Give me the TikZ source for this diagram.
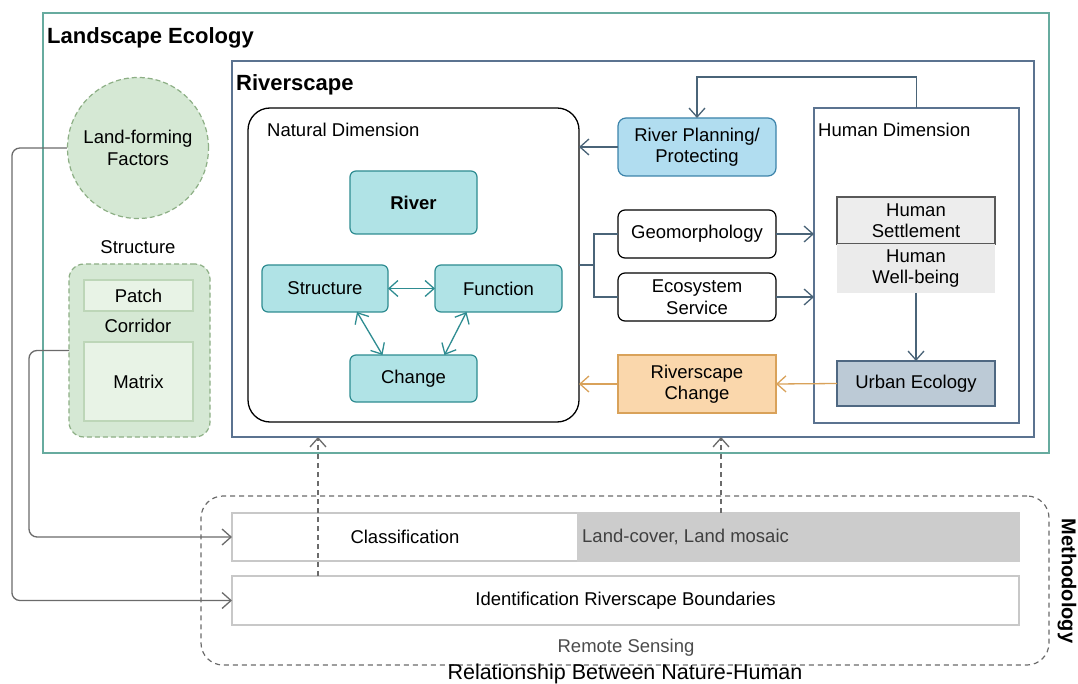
\documentclass[tikz,border=0pt]{standalone}
\usepackage{fontspec}
\setmainfont{Liberation Sans}
\usetikzlibrary{arrows.meta,calc}
\definecolor{lgreen}{HTML}{67AB9F}
\definecolor{rslate}{HTML}{5B7390}
\definecolor{tealF}{HTML}{B0E3E6}
\definecolor{tealD}{HTML}{2E8C91}
\definecolor{blueF}{HTML}{B1DDF0}
\definecolor{blueD}{HTML}{3C83AA}
\definecolor{orF}{HTML}{FAD7AC}
\definecolor{orD}{HTML}{D9A25A}
\definecolor{greenF}{HTML}{D5E8D4}
\definecolor{greenD}{HTML}{8DAF85}
\definecolor{paleF}{HTML}{E8F3E6}
\definecolor{paleD}{HTML}{BDD6B8}
\definecolor{slateF}{HTML}{BCCAD6}
\definecolor{slateD}{HTML}{4F6882}
\definecolor{conn}{HTML}{4A6478}
\definecolor{greyL}{HTML}{6B6B6B}
\definecolor{boxgrey}{HTML}{C8C8C8}
\begin{document}
\begin{tikzpicture}[x=1pt,y=-1pt,
  font=\fontsize{18.5}{21.5}\selectfont,
  box/.style={draw, inner sep=0pt, outer sep=0pt, anchor=north west, align=center},
  lbl/.style={inner sep=0pt, anchor=west},
  arr/.style={line width=1.3pt, -{Straight Barb[length=9pt,width=16pt]}},
  darr/.style={line width=1.3pt, {Straight Barb[length=9pt,width=16pt]}-{Straight Barb[length=9pt,width=16pt]}},
  tealbox/.style={box, fill=tealF, draw=tealD, line width=1.2pt, rounded corners=6pt},
  whitebox/.style={box, fill=white, draw=black, line width=1.2pt, rounded corners=7pt},
]
\useasboundingbox[fill=white] (0,0) rectangle (1078,684);

% containers
\node[box, draw=lgreen, line width=2pt, minimum width=1006, minimum height=440] (land) at (43,13) {};
\node[lbl, font=\fontsize{22}{26}\selectfont\bfseries] (landt) at (47,38) {Landscape Ecology};
\node[box, draw=rslate, line width=2pt, minimum width=802, minimum height=376] (rs) at (232,61) {};
\node[lbl, font=\fontsize{22}{26}\selectfont\bfseries] (rst) at (236,85) {Riverscape};
\node[box, draw=black, line width=1.3pt, rounded corners=22pt, minimum width=331, minimum height=314] (nat) at (248,108) {};
\node[lbl] (natt) at (267,130) {Natural Dimension};
\node[box, draw=rslate, line width=1.5pt, minimum width=205, minimum height=315] (hum) at (814,108) {};
\node[lbl] (humt) at (818,130) {Human Dimension};

% natural dimension
\node[tealbox, minimum width=127, minimum height=63, font=\fontsize{18.5}{21.5}\selectfont\bfseries] (river) at (350,171) {River};
\node[tealbox, minimum width=126, minimum height=47] (struct) at (262,265) {Structure};
\node[tealbox, minimum width=127, minimum height=47] (func) at (435,265) {Function};
\node[tealbox, minimum width=127, minimum height=47] (change) at (350,355) {Change};
\draw[darr, tealD] (struct.east) -- (func.west);
\draw[darr, tealD] ([xshift=32pt]struct.south) -- ([xshift=-31pt]change.north);
\draw[darr, tealD] ([xshift=-32pt]func.south) -- ([xshift=31pt]change.north);

% middle column
\node[box, fill=blueF, draw=blueD, line width=1.2pt, rounded corners=8pt, minimum width=158, minimum height=58] (plan) at (618,118) {River Planning/\\Protecting};
\node[whitebox, minimum width=158, minimum height=48] (geo) at (618,210) {Geomorphology};
\node[whitebox, minimum width=158, minimum height=48] (eco) at (618,273) {Ecosystem\\Service};
\node[box, fill=orF, draw=orD, line width=1.2pt, minimum width=158, minimum height=58] (rchg) at (618,355) {Riverscape\\Change};

% human dimension
\node[box, fill=black!7, draw=black!65, line width=1.2pt, minimum width=158, minimum height=47] (settle) at (837,197) {Human\\Settlement};
\node[box, fill=black!8, draw=none, minimum width=158, minimum height=49] (well) at (837,244) {Human\\Well-being};
\node[box, fill=slateF, draw=slateD, line width=1.5pt, minimum width=158, minimum height=45] (urban) at (837,361) {Urban Ecology};

% connectors
\draw[arr, conn] (plan.west) -- (plan.west -| nat.east);
\draw[arr, conn] (hum.north) -- ++(0,-31) -| (plan.north);
\draw[arr, conn] (geo.east) -- (geo.east -| hum.west);
\draw[arr, conn] (eco.east) -- (eco.east -| hum.west);
\coordinate (br) at (594,265);
\draw[line width=1.3pt, conn] (nat.east |- br) -- (br);
\draw[line width=1.3pt, conn] (geo.west) -| (br) |- (eco.west);
\draw[arr, conn] (well.south) -- (urban.north);
\draw[arr, orD] (urban.west) -- (rchg.east);
\draw[arr, orD] (rchg.west) -- (rchg.west -| nat.east);

% left side
\node[circle, draw=greenD, dashed, dash pattern=on 5pt off 3pt, fill=greenF, line width=1.2pt, minimum size=141, inner sep=0pt, align=center] (lf) at (138,148) {Land-forming\\Factors};
\node (stl) at (138,247) {Structure};
\node[box, draw=greenD, dashed, dash pattern=on 5pt off 3pt, fill=greenF, line width=1.2pt, rounded corners=15pt, minimum width=141, minimum height=173] (sg) at (69,264) {};
\node[box, fill=paleF, draw=paleD, line width=1.2pt, minimum width=109, minimum height=31] (patch) at (84,280) {Patch};
\node (corr) at (138,326) {Corridor};
\node[box, fill=paleF, draw=paleD, line width=1.2pt, minimum width=109, minimum height=79] (matrix) at (84,342) {Matrix};

% methodology
\node[box, draw=greyL, dashed, dash pattern=on 5pt off 4pt, line width=1.2pt, rounded corners=22pt, minimum width=848, minimum height=169] (meth) at (201,496) {};
\node[box, fill=white, draw=boxgrey, line width=1.2pt, minimum width=346, minimum height=48] (class) at (232,513) {Classification};
\node[box, fill=black!20, draw=black!20, line width=1.2pt, minimum width=441, minimum height=48] (lc) at (578,513) {};
\node[lbl, text=black!75] (lct) at (582,537) {Land-cover, Land mosaic};
\node[box, fill=white, draw=boxgrey, line width=1.2pt, minimum width=787, minimum height=49] (ident) at (232,576) {Identification Riverscape Boundaries};
\node[text=black!70] (rsens) at (626,648) {Remote Sensing};
\node[rotate=-90, inner sep=0pt, font=\fontsize{20}{24}\selectfont\bfseries] (metht) at (1067,581) {Methodology};
\node[inner sep=0pt, font=\fontsize{21.5}{25}\selectfont] (relt) at (625,674) {Relationship Between Nature-Human};

\draw[arr, greyL, rounded corners=8pt] (lf.west) -- ++(-55,0) |- (ident.west);
\draw[arr, greyL, rounded corners=8pt] (sg.west) -- ++(-40,0) |- (class.west);
\coordinate (d1) at ([xshift=86pt]ident.north west);
\coordinate (d2) at ([xshift=143pt]lc.north west);
\draw[arr, greyL, dashed, dash pattern=on 5pt off 4pt] (d1) -- (d1 |- rs.south);
\draw[arr, greyL, dashed, dash pattern=on 5pt off 4pt] (d2) -- (d2 |- rs.south);
\end{tikzpicture}
\end{document}
